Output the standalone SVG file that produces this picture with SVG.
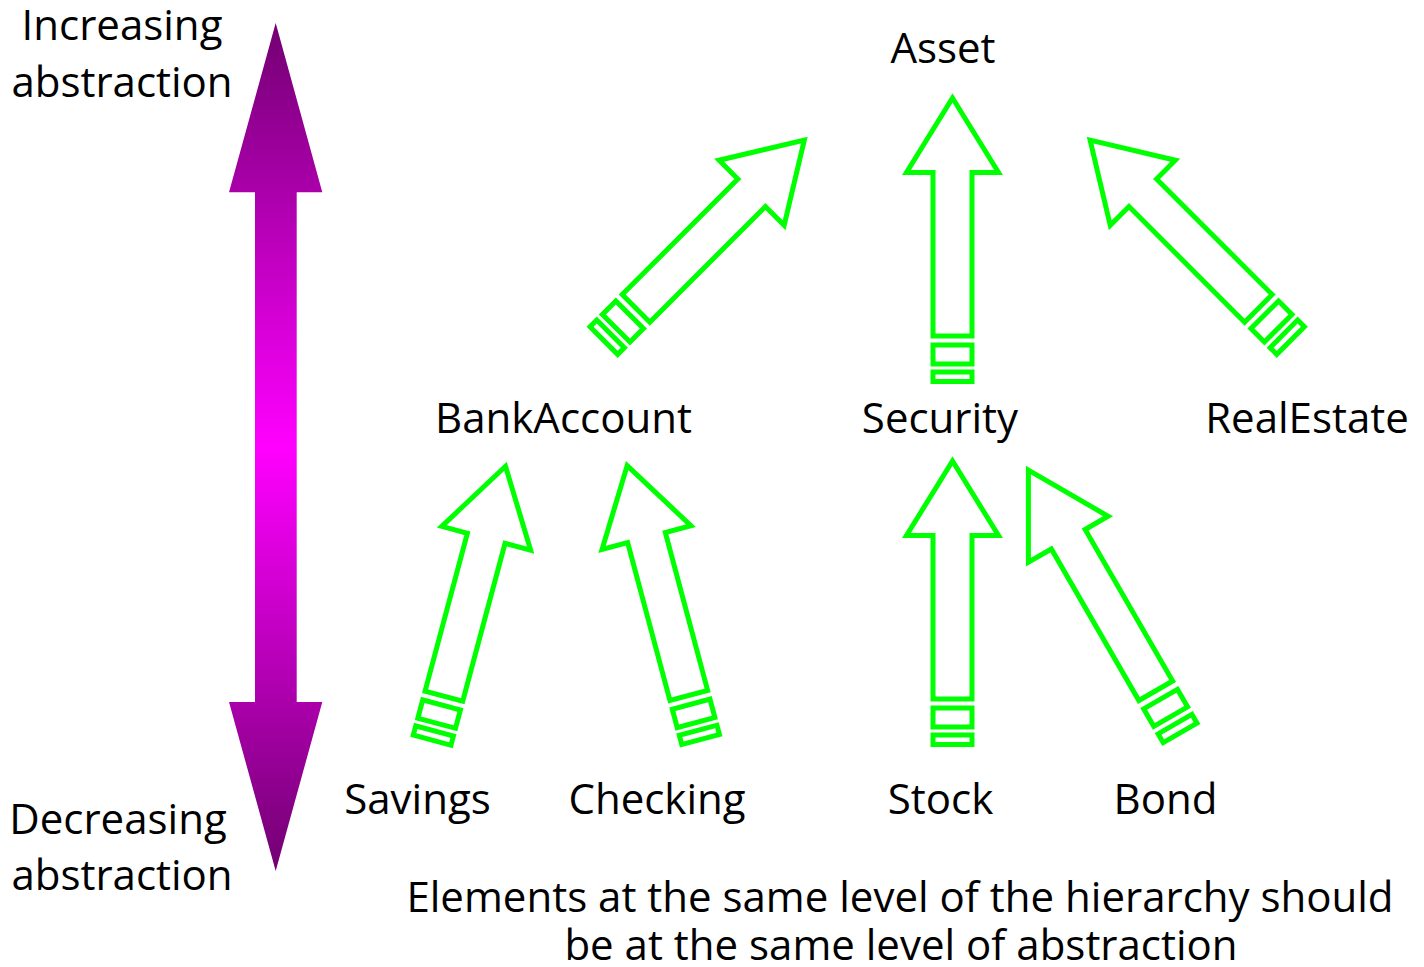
<svg xmlns="http://www.w3.org/2000/svg" width="1424" height="967" viewBox="0 0 1424 967">
  <style>
    .lbl { font-family: "Open Sans", "Noto Sans", "Liberation Sans", sans-serif; font-size: 42px; fill: #000; text-anchor: middle; }
    .striped path, .striped rect { fill: #fff; stroke: #00ff00; stroke-width: 5; stroke-linejoin: miter; stroke-miterlimit: 10; }
  </style>
  <defs>
    <linearGradient id="purpleGrad" gradientUnits="userSpaceOnUse" x1="0" y1="23" x2="0" y2="871">
      <stop offset="0" stop-color="#720072"/>
      <stop offset="0.5" stop-color="#ff00ff"/>
      <stop offset="1" stop-color="#720072"/>
    </linearGradient>
    <!-- striped block arrow: tip at origin, tail along +y -->
    <g id="striped" class="striped">
      <path d="M0,0 L46,74.5 L19.5,74.5 L19.5,238 L-19.5,238 L-19.5,74.5 L-46,74.5 Z"/>
      <rect x="-19.5" y="247" width="39" height="19"/>
      <rect x="-19.5" y="274" width="39" height="9.5"/>
    </g>
    <g id="stripedLong" class="striped">
      <path d="M0,0 L46,79.7 L19.5,79.7 L19.5,254.7 L-19.5,254.7 L-19.5,79.7 L-46,79.7 Z"/>
      <rect x="-19.5" y="264.3" width="39" height="20.3"/>
      <rect x="-19.5" y="293.2" width="39" height="10.2"/>
    </g>
  </defs>

  <rect width="1424" height="967" fill="#fff"/>

  <!-- abstraction scale -->
  <g id="scale">
    <path d="M275.7,23 L322.3,192.3 L296.7,192.3 L296.7,702 L322.3,702 L275.7,871 L229,702 L255,702 L255,192.3 L229,192.3 Z" fill="url(#purpleGrad)"/>
    <text class="lbl" x="122" y="40">Increasing</text>
    <text class="lbl" x="122" y="96.5">abstraction</text>
    <text class="lbl" x="118" y="834">Decreasing</text>
    <text class="lbl" x="122" y="890">abstraction</text>
  </g>

  <!-- connectors -->
  <g id="connectors">
    <use href="#striped" transform="translate(952.5,98)"/>
    <use href="#striped" transform="translate(804.3,140.1) rotate(45)"/>
    <use href="#striped" transform="translate(1090.1,140.1) rotate(-45)"/>
    <use href="#striped" transform="translate(505.5,466.3) rotate(15)"/>
    <use href="#striped" transform="translate(627.2,465.6) rotate(-15)"/>
    <use href="#striped" transform="translate(952.5,461)"/>
    <use href="#stripedLong" transform="translate(1028.4,470.2) rotate(-30)"/>
  </g>

  <!-- nodes -->
  <g id="asset"><text class="lbl" x="943" y="63">Asset</text></g>
  <g id="bankaccount"><text class="lbl" x="563.5" y="433">BankAccount</text></g>
  <g id="security"><text class="lbl" x="940" y="433">Security</text></g>
  <g id="realestate"><text class="lbl" x="1307" y="433">RealEstate</text></g>
  <g id="savings"><text class="lbl" x="417.5" y="814">Savings</text></g>
  <g id="checking"><text class="lbl" x="657" y="814">Checking</text></g>
  <g id="stock"><text class="lbl" x="940.5" y="814">Stock</text></g>
  <g id="bond"><text class="lbl" x="1165.5" y="814">Bond</text></g>

  <!-- caption -->
  <g id="caption">
    <text class="lbl" x="900" y="912">Elements at the same level of the hierarchy should</text>
    <text class="lbl" x="901" y="960">be at the same level of abstraction</text>
  </g>
</svg>
